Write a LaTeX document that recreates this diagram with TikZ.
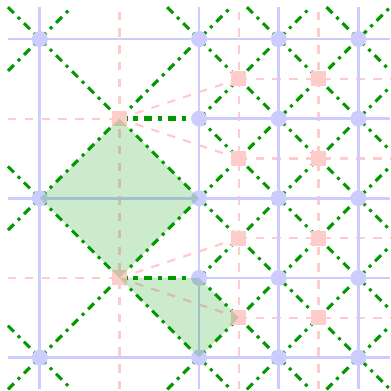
\documentclass[tikz,border=0pt]{standalone}
\begin{document}
\begin{tikzpicture}[
  bline/.style={blue!20, line width=1pt},
  pline/.style={red!20, line width=0.8pt, dashed},
  gline/.style={green!60!black, line width=1.1pt, dash dot},
  ghline/.style={green!60!black, line width=1.6pt, dash dot},
  bpt/.style={circle, fill=blue!20, inner sep=0pt, minimum size=5.7pt},
  ppt/.style={rectangle, fill=red!20, inner sep=0pt, minimum size=5.4pt},
  gfill/.style={fill=green!60!black, fill opacity=0.2}
]
\useasboundingbox (-0.5,-0.42) rectangle (4.4,4.49);
% coordinates of points
\foreach \x/\y/\n in {0/0/c00,0/2/c02,0/4/c04,2/0/c20,2/2/c22,2/4/c24,
  2/1/f21,2/3/f23,3/0/f30,3/1/f31,3/2/f32,3/3/f33,3/4/f34,
  4/0/f40,4/1/f41,4/2/f42,4/3/f43,4/4/f44}
  \coordinate (\n) at (\x,\y);
\coordinate (p1) at (1,1);
\coordinate (p3) at (1,3);
\foreach \x/\i in {2.5/a,3.5/b}
  \foreach \y/\j in {0.5/1,1.5/2,2.5/3,3.5/4}
    \coordinate (q\i\j) at (\x,\y);
% pink dashed lines
\foreach \x in {1,2.5,3.5} \draw[pline] (\x,-0.4) -- (\x,4.4);
\foreach \y in {1,3} \draw[pline] (-0.4,\y) -- (1,\y);
\foreach \y in {0.5,1.5,2.5,3.5} \draw[pline] (2.5,\y) -- (4.4,\y);
\draw[pline] (p3) -- (qa4);
\draw[pline] (p3) -- (qa3);
\draw[pline] (p1) -- (qa2);
\draw[pline] (p1) -- (qa1);
% blue grid
\foreach \y in {0,2,4} \draw[bline] (-0.4,\y) -- (4.4,\y);
\foreach \y in {1,3} \draw[bline] (2,\y) -- (4.4,\y);
\foreach \x in {0,2,3,4} \draw[bline] (\x,-0.4) -- (\x,4.4);
% green diagonals
\draw[gline] (-0.4,0.4) -- (0.4,-0.4);
\draw[gline] (-0.4,2.4) -- (2.4,-0.4);
\draw[gline] (-0.4,4.4) -- (4.4,-0.4);
\draw[gline] (1.6,4.4) -- (4.4,1.6);
\draw[gline] (3.6,4.4) -- (4.4,3.6);
\draw[gline] (-0.4,3.6) -- (0.4,4.4);
\draw[gline] (-0.4,1.6) -- (2.4,4.4);
\draw[gline] (-0.4,-0.4) -- (4.4,4.4);
\draw[gline] (1.6,-0.4) -- (4.4,2.4);
\draw[gline] (3.6,-0.4) -- (4.4,0.4);
\draw[gline] (f21) -- (3.4,-0.4);
\draw[gline] (f23) -- (4.4,0.6);
\draw[gline] (2.6,4.4) -- (4.4,2.6);
\draw[gline] (f23) -- (3.4,4.4);
\draw[gline] (f21) -- (4.4,3.4);
\draw[gline] (2.6,-0.4) -- (4.4,1.4);
% green horizontals
\draw[ghline] (p3) -- (f23);
\draw[ghline] (p1) -- (f21);
% points
\foreach \n in {c00,c02,c04,c20,c22,c24,f21,f23,f30,f31,f32,f33,f34,f40,f41,f42,f43,f44}
  \node[bpt] (n\n) at (\n) {};
\node[ppt] (np1) at (p1) {};
\node[ppt] (np3) at (p3) {};
\foreach \i in {a,b}
  \foreach \j in {1,2,3,4}
    \node[ppt] (nq\i\j) at (q\i\j) {};
% fills
\fill[gfill] (p3) -- (c22) -- (p1) -- (c02) -- cycle;
\fill[gfill] (p1) -- (f21) -- (qa1) -- (c20) -- cycle;
\end{tikzpicture}
\end{document}
